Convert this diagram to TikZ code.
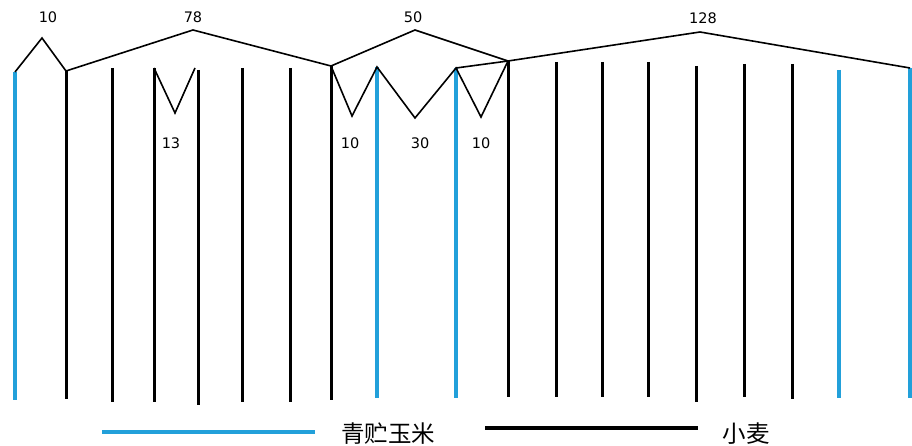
\documentclass[tikz,border=0pt]{standalone}
\usepackage{fontspec}
\setmainfont{DejaVu Sans}
\newfontfamily\cjk{Noto Sans CJK SC}
\definecolor{cornblue}{RGB}{34,160,218}
\begin{document}
\begin{tikzpicture}[x=1pt,y=-1pt,
  cornline/.style={draw=cornblue,line width=4pt},
  wheatline/.style={draw=black,line width=3pt},
  ann/.style={draw=black,line width=1.6pt,line join=miter},
  num/.style={font=\fontsize{14.5}{14.5}\selectfont,inner sep=0pt},
  legtext/.style={font=\cjk\fontsize{23.5}{23.5}\selectfont,inner sep=0pt}]
\useasboundingbox (0,0) rectangle (912,446);
\fill[white] (0,0) rectangle (912,446);
% rows
\foreach \n/\x/\t/\b/\s in {
  1/15/72/400/cornline, 2/66/71/399/wheatline, 3/112/68/402/wheatline,
  4/154/68/402/wheatline, 5/198/70/405/wheatline, 6/242/68/402/wheatline,
  7/290/68/402/wheatline, 8/331/66/400/wheatline, 9/377/67/398/cornline,
  10/456/68/398/cornline, 11/508/61/397/wheatline, 12/556/62/397/wheatline,
  13/602/62/397/wheatline, 14/648/62/397/wheatline, 15/696/66/402/wheatline,
  16/744/64/397/wheatline, 17/792/64/399/wheatline, 18/839/70/398/cornline,
  19/910/68/398/cornline}{
  \coordinate (t\n) at (\x,\t);
  \coordinate (b\n) at (\x,\b);
  \draw[\s] (t\n) -- (b\n);
}
% annotation vertices
\coordinate (pA) at (42,38);
\coordinate (pB) at (193,30);
\coordinate (pC) at (415,30);
\coordinate (pD) at (700,32);
\coordinate (vA) at (175,113);
\coordinate (vB) at (352,116);
\coordinate (vC) at (415,118);
\coordinate (vD) at (481,117);
\coordinate (v13r) at (195,68);
% spans above
\draw[ann] (t1) -- (pA) -- (t2) -- (pB) -- (t8) -- (pC) -- (t11) -- (pD) -- (t19);
% spans below
\draw[ann] (t4) -- (vA) -- (v13r);
\draw[ann] (t8) -- (vB) -- (t9) -- (vC) -- (t10) -- (vD) -- (t11);
\draw[ann] (t10) -- (t11);
% labels
\node[num] (l10a) at (48,17) {10};
\node[num] (l78) at (193,17) {78};
\node[num] (l50) at (413,17) {50};
\node[num] (l128) at (703,18) {128};
\node[num] (l13) at (171,143) {13};
\node[num] (l10b) at (350,143) {10};
\node[num] (l30) at (420,143) {30};
\node[num] (l10c) at (481,143) {10};
% legend
\coordinate (lc1) at (102,432);
\coordinate (lc2) at (315,432);
\coordinate (lw1) at (485,428);
\coordinate (lw2) at (698,428);
\draw[draw=cornblue,line width=4.5pt] (lc1) -- (lc2);
\draw[draw=black,line width=4pt] (lw1) -- (lw2);
\node[legtext] (tc) at (388,434) {青贮玉米};
\node[legtext] (tw) at (746,434) {小麦};
\end{tikzpicture}
\end{document}
